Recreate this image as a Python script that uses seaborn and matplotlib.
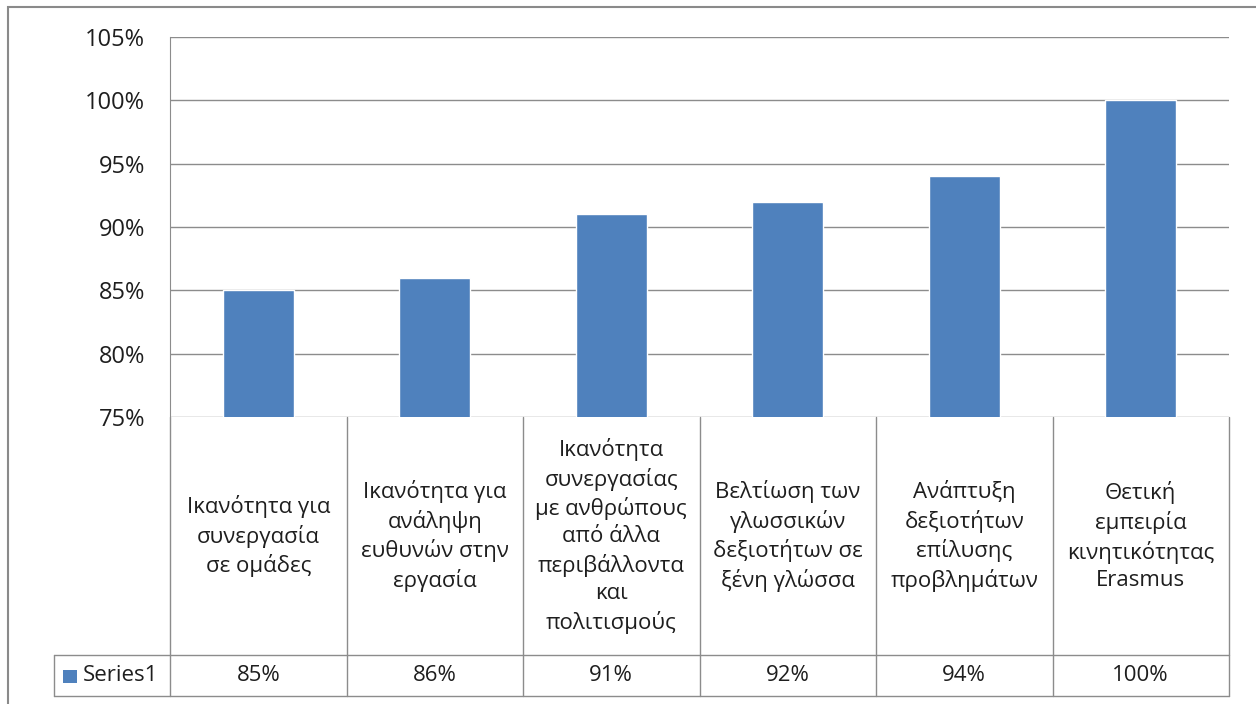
import numpy as np
import pandas as pd
import matplotlib.pyplot as plt
import seaborn as sns
from matplotlib.ticker import PercentFormatter
from matplotlib.patches import Rectangle

categories = [
    "Ικανότητα για\nσυνεργασία\nσε ομάδες",
    "Ικανότητα για\nανάληψη\nευθυνών στην\nεργασία",
    "Ικανότητα\nσυνεργασίας\nμε ανθρώπους\nαπό άλλα\nπεριβάλλοντα\nκαι\nπολιτισμούς",
    "Βελτίωση των\nγλωσσικών\nδεξιοτήτων σε\nξένη γλώσσα",
    "Ανάπτυξη\nδεξιοτήτων\nεπίλυσης\nπροβλημάτων",
    "Θετική\nεμπειρία\nκινητικότητας\nErasmus",
]
values = [0.85, 0.86, 0.91, 0.92, 0.94, 1.00]
series_name = "Series1"
yticks = [0.75, 0.80, 0.85, 0.90, 0.95, 1.00, 1.05]

sns.set_style("white")
plt.rcParams['font.family'] = ['Open Sans', 'DejaVu Sans']
blue = "#4F81BD"
gray = "#8C8C8C"
txt = "#1E1E1E"
W, H = 1256, 704

df = pd.DataFrame({"cat": [str(i) for i in range(len(values))], "val": values})

fig = plt.figure(figsize=(W / 100, H / 100), dpi=100)
# outer chart frame
fig.add_artist(Rectangle((8 / W, -0.01), 1.1, (704 - 7) / H + 0.01, transform=fig.transFigure,
                         fill=False, edgecolor="#8A8A8A", lw=1.5))

left, right, top, bottom = 170, 1229, 37, 417
ax = fig.add_axes([left / W, 1 - bottom / H, (right - left) / W, (bottom - top) / H])
sns.barplot(data=df, x="cat", y="val", color=blue, width=0.4, saturation=1, ax=ax)
ax.set_ylim(0.75, 1.05)
ax.set_yticks(yticks)
ax.yaxis.set_major_formatter(PercentFormatter(1.0, decimals=0))
ax.tick_params(axis="y", length=0, pad=18, labelsize=17, labelcolor=txt)
ax.set_xticks([])
ax.set_xlabel("")
ax.set_ylabel("")
ax.set_xlim(-0.5, len(values) - 0.5)
ax.grid(axis="y", color=gray, lw=1)
ax.set_axisbelow(True)
for s in ["top", "right", "bottom"]:
    ax.spines[s].set_visible(False)
ax.spines["left"].set_color(gray)

# data table below the plot
row1_bot, row2_bot = 655, 696
n = len(values)
colw = (right - left) / n
def fx(px):
    return px / W
def fy(py):
    return 1 - py / H
lk = dict(color=gray, lw=1, transform=fig.transFigure)
for i in range(n + 1):
    x = left + i * colw
    fig.add_artist(plt.Line2D([fx(x), fx(x)], [fy(bottom), fy(row2_bot)], **lk))
fig.add_artist(plt.Line2D([fx(54), fx(right)], [fy(row1_bot), fy(row1_bot)], **lk))
fig.add_artist(plt.Line2D([fx(54), fx(right)], [fy(row2_bot), fy(row2_bot)], **lk))
fig.add_artist(plt.Line2D([fx(54), fx(54)], [fy(row1_bot), fy(row2_bot)], **lk))

for i, (c, v) in enumerate(zip(categories, values)):
    cx = left + (i + 0.5) * colw
    fig.text(fx(cx), fy((bottom + row1_bot) / 2), c, ha="center", va="center",
             fontsize=16, color=txt, linespacing=1.38)
    fig.text(fx(cx), fy((row1_bot + row2_bot) / 2), f"{v:.0%}", ha="center", va="center",
             fontsize=16, color=txt)

fig.add_artist(Rectangle((fx(63), fy(683)), 14 / W, 13 / H, transform=fig.transFigure,
                         facecolor=blue, edgecolor="none"))
fig.text(fx(83), fy((row1_bot + row2_bot) / 2), series_name, ha="left", va="center",
         fontsize=16, color=txt)

fig.savefig("out.png", dpi=100)
